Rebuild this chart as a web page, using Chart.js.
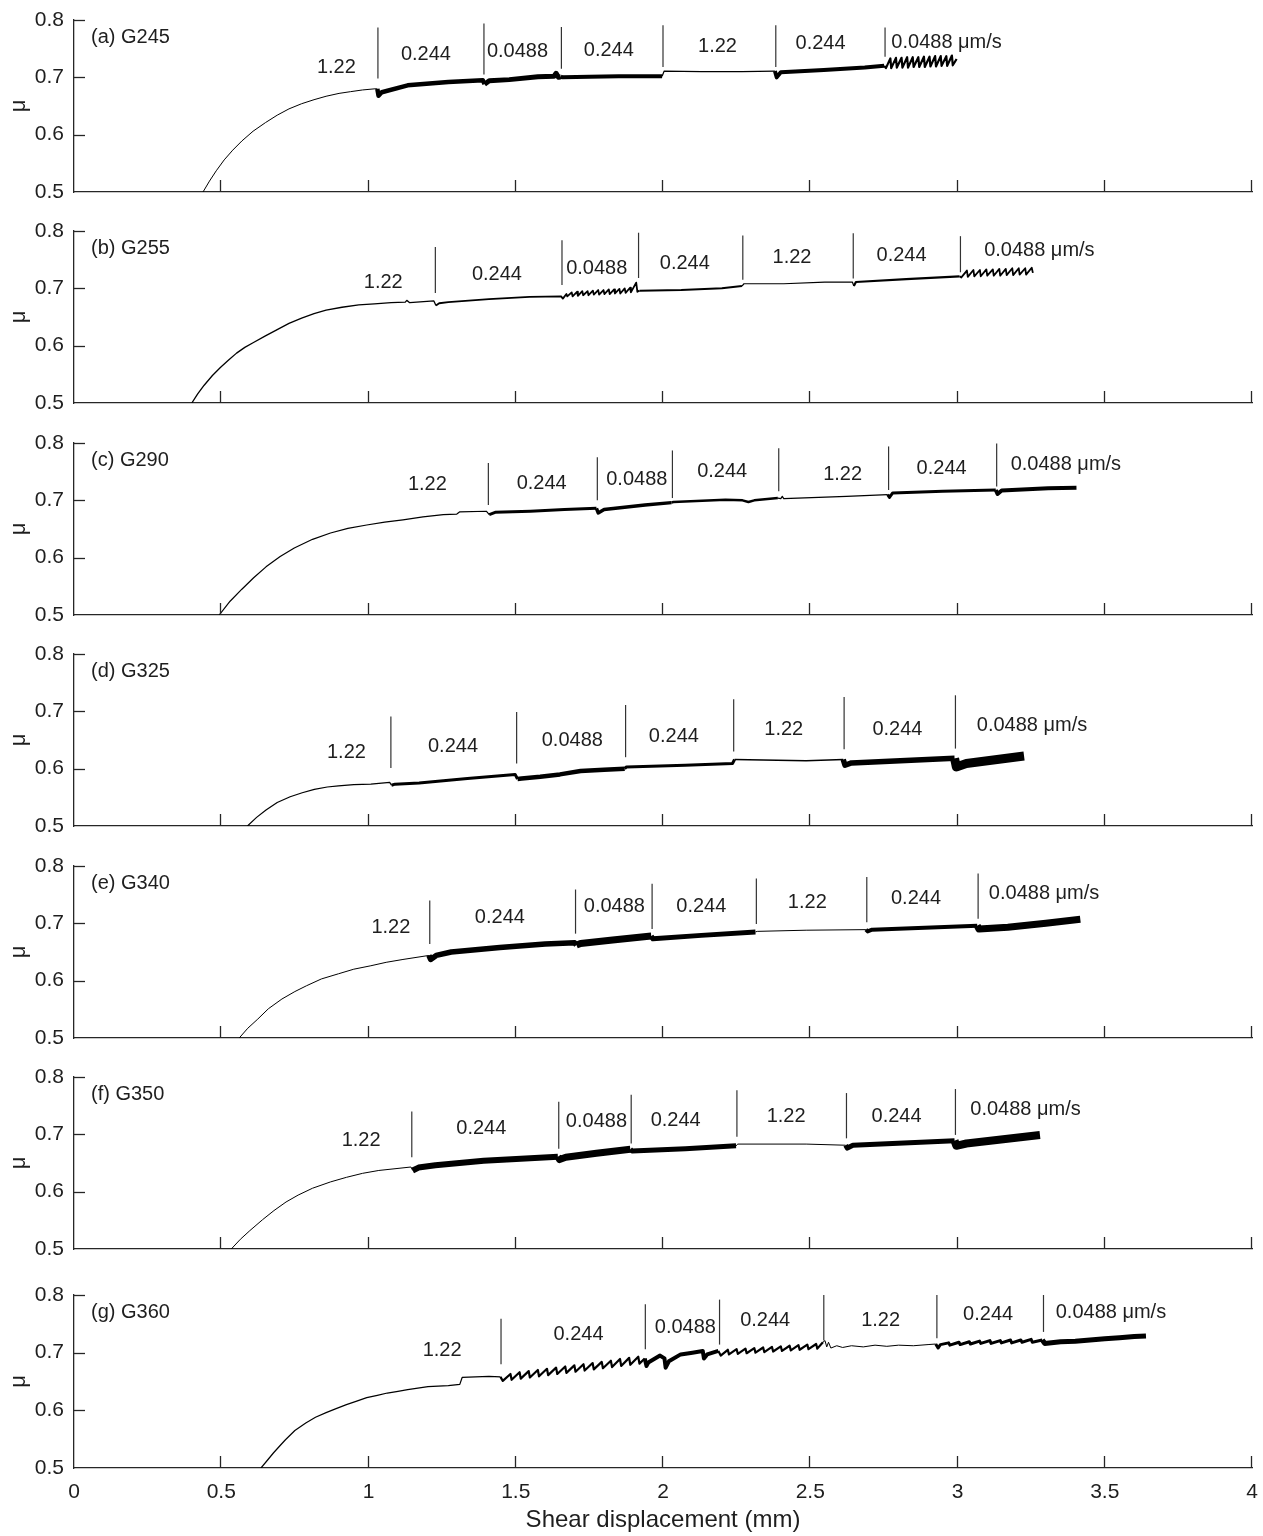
<!DOCTYPE html>
<html>
<head>
<meta charset="utf-8">
<title>Friction vs shear displacement</title>
<script src="https://cdn.jsdelivr.net/npm/chart.js@4.4.1/dist/chart.umd.min.js"></script>
<style>
  body { margin: 0; background: #fff; width: 1263px; height: 1536px; position: relative; overflow: hidden; }
  canvas { position: absolute; left: 0; }
</style>
</head>
<body>
<script>
// Axis ticks shared by every panel
const xTickValues = [0, 0.5, 1, 1.5, 2, 2.5, 3, 3.5, 4];
const yTickValues = [0.5, 0.6, 0.7, 0.8];

// Velocity steps (µm/s), the same sequence in every run
const rateLabels = ['1.22', '0.244', '0.0488', '0.244', '1.22', '0.244', '0.0488 μm/s'];

// ---- (a) G245 ----
const dispA = [0.438, 0.460, 0.483, 0.510, 0.539, 0.570, 0.608, 0.650, 0.690, 0.730, 0.773, 0.815, 0.856, 0.900, 0.939, 0.980, 1.022, 1.030,
  1.034, 1.045, 1.133, 1.271, 1.388,
  1.394, 1.410, 1.478, 1.575, 1.630, 1.637, 1.645, 1.653,
  1.660, 1.750, 1.850, 1.997,
  2.004, 2.130, 2.268, 2.380,
  2.386, 2.400, 2.546, 2.685, 2.751,
  2.757, 2.772, 2.775, 2.791, 2.794, 2.810, 2.813, 2.829, 2.832, 2.848, 2.851, 2.867, 2.870,
  2.886, 2.889, 2.905, 2.908, 2.924, 2.927, 2.943, 2.946, 2.962, 2.965, 2.981, 2.984, 2.997];
const muA = [0.500, 0.519, 0.537, 0.556, 0.573, 0.589, 0.606, 0.621, 0.634, 0.645, 0.654, 0.661, 0.667, 0.672, 0.675, 0.678, 0.680, 0.680,
  0.668, 0.674, 0.686, 0.692, 0.695,
  0.688, 0.694, 0.696, 0.701, 0.702, 0.707, 0.700, 0.701,
  0.700, 0.701, 0.702, 0.702,
  0.711, 0.710, 0.710, 0.711,
  0.700, 0.709, 0.713, 0.717, 0.720,
  0.716, 0.733, 0.716, 0.734, 0.717, 0.734, 0.717, 0.735, 0.717, 0.735, 0.718, 0.735, 0.718,
  0.736, 0.718, 0.736, 0.719, 0.737, 0.719, 0.737, 0.720, 0.737, 0.720, 0.738, 0.721, 0.732];
const stepsA = [1.032, 1.392, 1.655, 2.0, 2.383, 2.754];
const stepLowA = [0.698, 0.705, 0.715, 0.718, 0.718, 0.736];
const stepHighA = [0.787, 0.794, 0.788, 0.791, 0.791, 0.787];
const labelXA = [0.891, 1.195, 1.506, 1.816, 2.185, 2.535, 2.963];
const labelYA = [0.718, 0.739, 0.745, 0.747, 0.753, 0.759, 0.760];

// ---- (b) G255 ----
const dispB = [0.400, 0.420, 0.442, 0.470, 0.497, 0.525, 0.552, 0.580, 0.608, 0.650, 0.690, 0.730, 0.773, 0.815, 0.856, 0.910, 0.967, 1.020, 1.077, 1.125, 1.130, 1.140, 1.222,
  1.229, 1.240, 1.271, 1.409, 1.547, 1.654,
  1.660, 1.672, 1.675, 1.690, 1.693, 1.708, 1.711, 1.726, 1.729, 1.744, 1.747, 1.762, 1.765, 1.780, 1.783,
  1.798, 1.801, 1.816, 1.819, 1.834, 1.837, 1.852, 1.855, 1.870, 1.873, 1.888, 1.891, 1.909, 1.913,
  1.920, 2.062, 2.200, 2.268,
  2.275, 2.410, 2.549, 2.643,
  2.648, 2.655, 2.826, 3.007,
  3.013, 3.032, 3.035, 3.054, 3.057, 3.076, 3.079, 3.098, 3.101, 3.120, 3.123, 3.142, 3.145, 3.164, 3.167,
  3.186, 3.189, 3.208, 3.211, 3.230, 3.233, 3.252, 3.256];
const muB = [0.500, 0.516, 0.531, 0.548, 0.562, 0.575, 0.587, 0.597, 0.605, 0.617, 0.628, 0.639, 0.648, 0.656, 0.662, 0.667, 0.671, 0.673, 0.675, 0.676, 0.679, 0.675, 0.678,
  0.670, 0.674, 0.676, 0.681, 0.685, 0.686,
  0.682, 0.690, 0.686, 0.693, 0.686, 0.694, 0.687, 0.695, 0.688, 0.695, 0.688, 0.696, 0.689, 0.697, 0.689,
  0.697, 0.690, 0.698, 0.690, 0.698, 0.691, 0.699, 0.691, 0.700, 0.692, 0.701, 0.693, 0.710, 0.694,
  0.696, 0.697, 0.700, 0.704,
  0.708, 0.708, 0.711, 0.711,
  0.704, 0.711, 0.716, 0.721,
  0.719, 0.731, 0.720, 0.732, 0.721, 0.732, 0.721, 0.733, 0.722, 0.733, 0.722, 0.734, 0.722, 0.734, 0.723,
  0.735, 0.723, 0.735, 0.724, 0.735, 0.724, 0.736, 0.727];
const stepsB = [1.227, 1.657, 1.917, 2.271, 2.646, 3.010];
const stepLowB = [0.692, 0.706, 0.718, 0.715, 0.717, 0.728];
const stepHighB = [0.772, 0.784, 0.797, 0.792, 0.796, 0.791];
const labelXB = [1.050, 1.436, 1.775, 2.074, 2.438, 2.810, 3.278];
const labelYB = [0.710, 0.725, 0.735, 0.744, 0.753, 0.757, 0.766];

// ---- (c) G290 ----
const dispC = [0.493, 0.530, 0.570, 0.610, 0.652, 0.700, 0.748, 0.810, 0.871, 0.930, 0.994, 1.055, 1.117, 1.185, 1.254, 1.300, 1.310, 1.400,
  1.410, 1.430, 1.550, 1.665, 1.774,
  1.780, 1.800, 1.939, 2.029,
  2.035, 2.212, 2.270, 2.290, 2.310, 2.390,
  2.400, 2.405, 2.410, 2.623, 2.763,
  2.769, 2.780, 2.950, 3.130,
  3.136, 3.150, 3.308, 3.404];
const muC = [0.500, 0.524, 0.545, 0.565, 0.584, 0.602, 0.617, 0.632, 0.643, 0.651, 0.657, 0.662, 0.666, 0.671, 0.675, 0.676, 0.680, 0.681,
  0.675, 0.679, 0.681, 0.684, 0.686,
  0.678, 0.684, 0.692, 0.696,
  0.697, 0.701, 0.700, 0.697, 0.700, 0.704,
  0.703, 0.707, 0.703, 0.707, 0.710,
  0.705, 0.713, 0.716, 0.718,
  0.711, 0.717, 0.721, 0.722];
const stepsC = [1.407, 1.777, 2.032, 2.393, 2.766, 3.133];
const stepLowC = [0.692, 0.700, 0.704, 0.716, 0.718, 0.724];
const stepHighC = [0.765, 0.775, 0.787, 0.791, 0.794, 0.799];
const labelXC = [1.200, 1.588, 1.911, 2.201, 2.610, 2.946, 3.368];
const labelYC = [0.727, 0.730, 0.737, 0.750, 0.745, 0.756, 0.762];

// ---- (d) G325 ----
const dispD = [0.589, 0.620, 0.652, 0.690, 0.734, 0.775, 0.816, 0.860, 0.898, 0.950, 1.008, 1.072,
  1.078, 1.090, 1.172, 1.336, 1.498,
  1.506, 1.520, 1.583, 1.650, 1.720, 1.800, 1.870,
  1.876, 2.075, 2.236,
  2.243, 2.486, 2.612,
  2.618, 2.640, 2.990,
  2.996, 3.030, 3.226];
const muD = [0.500, 0.515, 0.528, 0.541, 0.551, 0.558, 0.564, 0.568, 0.570, 0.572, 0.573, 0.576,
  0.571, 0.573, 0.575, 0.583, 0.590,
  0.582, 0.583, 0.586, 0.590, 0.596, 0.598, 0.600,
  0.603, 0.606, 0.609,
  0.616, 0.614, 0.616,
  0.606, 0.610, 0.618,
  0.603, 0.609, 0.622];
const stepsD = [1.076, 1.503, 1.873, 2.240, 2.615, 2.993];
const stepLowD = [0.601, 0.609, 0.620, 0.630, 0.634, 0.635];
const stepHighD = [0.691, 0.699, 0.711, 0.721, 0.725, 0.728];
const labelXD = [0.925, 1.287, 1.692, 2.037, 2.410, 2.796, 3.253];
const labelYD = [0.629, 0.639, 0.649, 0.656, 0.668, 0.668, 0.676];

// ---- (e) G340 ----
const dispE = [0.561, 0.590, 0.624, 0.660, 0.706, 0.750, 0.789, 0.840, 0.898, 0.950, 1.008, 1.060, 1.117, 1.205,
  1.211, 1.230, 1.281, 1.446, 1.600, 1.700,
  1.706, 1.720, 1.829, 1.960,
  1.966, 2.130, 2.314,
  2.320, 2.486, 2.689,
  2.695, 2.710, 3.067,
  3.073, 3.171, 3.300, 3.417];
const muE = [0.500, 0.517, 0.533, 0.551, 0.568, 0.581, 0.591, 0.603, 0.612, 0.620, 0.626, 0.632, 0.637, 0.644,
  0.637, 0.644, 0.650, 0.658, 0.664, 0.666,
  0.662, 0.665, 0.671, 0.678,
  0.673, 0.679, 0.685,
  0.686, 0.688, 0.689,
  0.686, 0.689, 0.696,
  0.690, 0.693, 0.700, 0.707];
const stepsE = [1.208, 1.703, 1.963, 2.317, 2.692, 3.070];
const stepLowE = [0.664, 0.682, 0.690, 0.699, 0.702, 0.708];
const stepHighE = [0.740, 0.759, 0.769, 0.778, 0.781, 0.787];
const labelXE = [1.076, 1.446, 1.835, 2.130, 2.490, 2.859, 3.294];
const labelYE = [0.692, 0.711, 0.730, 0.730, 0.736, 0.743, 0.752];

// ---- (f) G350 ----
const dispF = [0.534, 0.565, 0.597, 0.640, 0.679, 0.720, 0.761, 0.810, 0.871, 0.925, 0.980, 1.035, 1.090, 1.144,
  1.150, 1.170, 1.227, 1.391, 1.643,
  1.649, 1.670, 1.774, 1.889,
  1.895, 2.076, 2.248,
  2.254, 2.486, 2.620,
  2.626, 2.645, 2.990,
  2.996, 3.030, 3.280];
const muF = [0.500, 0.517, 0.532, 0.551, 0.567, 0.582, 0.594, 0.606, 0.617, 0.625, 0.632, 0.637, 0.640, 0.643,
  0.637, 0.642, 0.646, 0.654, 0.661,
  0.656, 0.660, 0.667, 0.674,
  0.671, 0.675, 0.680,
  0.683, 0.683, 0.681,
  0.676, 0.681, 0.689,
  0.680, 0.684, 0.699];
const stepsF = [1.147, 1.646, 1.892, 2.251, 2.623, 2.993];
const stepLowF = [0.660, 0.675, 0.684, 0.696, 0.693, 0.699];
const stepHighF = [0.740, 0.757, 0.769, 0.777, 0.772, 0.779];
const labelXF = [0.975, 1.383, 1.774, 2.043, 2.418, 2.793, 3.231];
const labelYF = [0.689, 0.711, 0.722, 0.724, 0.731, 0.731, 0.743];

// ---- (g) G360 ----
const dispG = [0.635, 0.656, 0.677, 0.700, 0.718, 0.750, 0.787, 0.820, 0.856, 0.890, 0.925, 0.960, 0.994, 1.030, 1.064, 1.100, 1.133, 1.202, 1.271, 1.310, 1.318, 1.409, 1.448,
  1.456, 1.482, 1.486, 1.513, 1.517, 1.544, 1.548, 1.575, 1.579, 1.606, 1.610, 1.637, 1.641, 1.668, 1.672, 1.699,
  1.703, 1.730, 1.734, 1.761, 1.765, 1.792, 1.796, 1.823, 1.827, 1.854, 1.858, 1.885, 1.889, 1.916, 1.920, 1.938,
  1.944, 1.950, 1.990, 2.005, 2.009, 2.020, 2.060, 2.100, 2.135, 2.139, 2.150, 2.188,
  2.196, 2.220, 2.224, 2.250, 2.254, 2.280, 2.284, 2.310, 2.314, 2.340, 2.344, 2.370, 2.374, 2.400, 2.404, 2.430,
  2.434, 2.460, 2.464, 2.490, 2.494, 2.520, 2.524, 2.543,
  2.550, 2.556, 2.562, 2.570, 2.590, 2.610, 2.640, 2.680, 2.720, 2.760, 2.800, 2.850, 2.900, 2.926,
  2.934, 2.942, 2.970, 2.974, 3.005, 3.009, 3.040, 3.044, 3.075, 3.079, 3.110, 3.114, 3.145, 3.149, 3.180, 3.184,
  3.215, 3.219, 3.250, 3.254, 3.288,
  3.296, 3.350, 3.400, 3.450, 3.500, 3.550, 3.600, 3.640];
const muG = [0.500, 0.513, 0.526, 0.539, 0.549, 0.565, 0.578, 0.588, 0.596, 0.603, 0.610, 0.616, 0.622, 0.626, 0.630, 0.633, 0.636, 0.641, 0.643, 0.645, 0.657, 0.659, 0.658,
  0.651, 0.663, 0.653, 0.666, 0.655, 0.668, 0.657, 0.670, 0.659, 0.672, 0.661, 0.674, 0.663, 0.676, 0.665, 0.678,
  0.667, 0.680, 0.669, 0.682, 0.671, 0.684, 0.673, 0.686, 0.675, 0.689, 0.677, 0.691, 0.679, 0.693, 0.681, 0.690,
  0.677, 0.683, 0.695, 0.690, 0.674, 0.685, 0.697, 0.700, 0.703, 0.690, 0.697, 0.703,
  0.695, 0.705, 0.697, 0.706, 0.698, 0.707, 0.699, 0.708, 0.700, 0.709, 0.701, 0.710, 0.702, 0.711, 0.703, 0.712,
  0.704, 0.713, 0.705, 0.714, 0.706, 0.715, 0.707, 0.718,
  0.721, 0.710, 0.718, 0.708, 0.712, 0.709, 0.712, 0.710, 0.713, 0.711, 0.713, 0.712, 0.714, 0.715,
  0.708, 0.714, 0.717, 0.713, 0.718, 0.714, 0.719, 0.715, 0.720, 0.716, 0.721, 0.716, 0.721, 0.717, 0.722, 0.717,
  0.722, 0.718, 0.723, 0.718, 0.722,
  0.716, 0.719, 0.720, 0.722, 0.724, 0.726, 0.728, 0.729];
const stepsG = [1.450, 1.940, 2.192, 2.546, 2.930, 3.292];
const stepLowG = [0.680, 0.706, 0.714, 0.721, 0.725, 0.736];
const stepHighG = [0.759, 0.784, 0.792, 0.800, 0.800, 0.800];
const labelXG = [1.250, 1.713, 2.076, 2.347, 2.739, 3.104, 3.521];
const labelYG = [0.703, 0.732, 0.743, 0.755, 0.755, 0.766, 0.769];

// Panels, top to bottom
const panels = [
  { name: '(a) G245', disp: dispA, mu: muA, steps: stepsA, stepLow: stepLowA, stepHigh: stepHighA, labelX: labelXA, labelY: labelYA },
  { name: '(b) G255', disp: dispB, mu: muB, steps: stepsB, stepLow: stepLowB, stepHigh: stepHighB, labelX: labelXB, labelY: labelYB },
  { name: '(c) G290', disp: dispC, mu: muC, steps: stepsC, stepLow: stepLowC, stepHigh: stepHighC, labelX: labelXC, labelY: labelYC },
  { name: '(d) G325', disp: dispD, mu: muD, steps: stepsD, stepLow: stepLowD, stepHigh: stepHighD, labelX: labelXD, labelY: labelYD },
  { name: '(e) G340', disp: dispE, mu: muE, steps: stepsE, stepLow: stepLowE, stepHigh: stepHighE, labelX: labelXE, labelY: labelYE },
  { name: '(f) G350', disp: dispF, mu: muF, steps: stepsF, stepLow: stepLowF, stepHigh: stepHighF, labelX: labelXF, labelY: labelYF },
  { name: '(g) G360', disp: dispG, mu: muG, steps: stepsG, stepLow: stepLowG, stepHigh: stepHighG, labelX: labelXG, labelY: labelYG }
];

// ---- Layout and style (kept apart from the data) ----
const PAGE_W = 1263;
const PAGE_H = 1536;
const PAD_TOP = 20;
const PAD_RIGHT = 11;
const Y_AXIS_W = 74;
const panelTops = [20, 231, 443, 654, 866, 1077, 1295];
// line width of the friction trace in each velocity interval (noise band thickness)
const traceWidths = [
  [1, 4.5, 5, 4, 1.2, 4, 2.2],
  [1.3, 1.8, 1.8, 2, 1.2, 2.2, 1.8],
  [1.2, 3, 3.5, 2.5, 1.2, 3, 4],
  [1.2, 3, 4.5, 3, 1.5, 5.5, 9],
  [1, 5.5, 7, 5, 1, 4, 7],
  [1, 6, 7, 5, 1, 5, 8],
  [1.2, 2.2, 4, 2.2, 1, 3, 5]
];
const FONT = '"Liberation Sans", Arial, Helvetica, sans-serif';
const AXIS_COLOR = '#262626';
const TEXT_COLOR = '#1e1e1e';

/**
 * Index of the velocity interval that contains displacement x.
 */
function rateIndex(x, steps) {
  return steps.filter(s => s <= x).length;
}

/**
 * Plugin drawing inward tick marks, the velocity labels and the panel name.
 */
function makeDecorPlugin(panel) {
  return {
    id: 'panelDecor',
    afterDraw(chart) {
      const { ctx, chartArea, scales: { x, y } } = chart;
      ctx.save();
      ctx.strokeStyle = AXIS_COLOR;
      ctx.lineWidth = 1.3;
      xTickValues.forEach(v => {
        if (v === 0) return;
        const px = Math.round(x.getPixelForValue(v)) - 0.5;
        ctx.beginPath();
        ctx.moveTo(px, chartArea.bottom);
        ctx.lineTo(px, chartArea.bottom - 12);
        ctx.stroke();
      });
      yTickValues.forEach(v => {
        if (v === 0.5) return;
        const py = Math.round(y.getPixelForValue(v)) + 0.5;
        ctx.beginPath();
        ctx.moveTo(chartArea.left, py);
        ctx.lineTo(chartArea.left + 11, py);
        ctx.stroke();
      });
      ctx.fillStyle = TEXT_COLOR;
      ctx.font = '20px ' + FONT;
      ctx.textAlign = 'center';
      ctx.textBaseline = 'middle';
      panel.labelX.forEach((lx, i) => {
        ctx.fillText(rateLabels[i], x.getPixelForValue(lx), y.getPixelForValue(panel.labelY[i]));
      });
      ctx.textAlign = 'left';
      ctx.fillText(panel.name, chartArea.left + 17, chartArea.top + 17);
      ctx.restore();
    }
  };
}

/**
 * Builds one stacked panel on its own canvas.
 */
function renderPanel(panel, index) {
  const isLast = index === panels.length - 1;
  const plotTop = panelTops[index];
  const plotHeight = isLast ? 173 : 172;
  const canvasTop = plotTop - PAD_TOP;
  const axisHeight = isLast ? PAGE_H - (plotTop + plotHeight) : 18;
  const height = PAD_TOP + plotHeight + axisHeight;

  const canvas = document.createElement('canvas');
  canvas.width = PAGE_W;
  canvas.height = height;
  canvas.style.top = canvasTop + 'px';
  canvas.style.width = PAGE_W + 'px';
  canvas.style.height = height + 'px';
  document.body.appendChild(canvas);

  const widths = traceWidths[index];
  const trace = {
    data: panel.disp.map((d, i) => ({ x: d, y: panel.mu[i] })),
    borderColor: '#000',
    borderWidth: 1,
    borderJoinStyle: 'round',
    pointRadius: 0,
    tension: 0,
    fill: false,
    segment: {
      borderWidth: ctx => widths[rateIndex((ctx.p0.parsed.x + ctx.p1.parsed.x) / 2, panel.steps)]
    }
  };
  // Vertical markers where the loading velocity changes
  const markers = panel.steps.map((s, i) => ({
    data: [{ x: s, y: panel.stepLow[i] }, { x: s, y: panel.stepHigh[i] }],
    borderColor: '#333',
    borderWidth: 1.2,
    pointRadius: 0,
    fill: false
  }));

  new Chart(canvas.getContext('2d'), {
    type: 'line',
    data: { datasets: [trace, ...markers] },
    options: {
      responsive: false,
      animation: false,
      devicePixelRatio: 1,
      layout: { padding: { top: PAD_TOP, right: PAD_RIGHT, left: 0, bottom: 0 } },
      plugins: { legend: { display: false }, tooltip: { enabled: false } },
      scales: {
        x: {
          type: 'linear',
          min: 0,
          max: 4,
          afterBuildTicks: scale => { scale.ticks = xTickValues.map(v => ({ value: v })); },
          afterFit: scale => {
            scale.height = axisHeight;
            scale.paddingLeft = 0;
            scale.paddingRight = 0;
          },
          ticks: {
            display: isLast,
            font: { size: 21, family: FONT },
            color: TEXT_COLOR,
            padding: 12,
            maxRotation: 0,
            callback: v => String(v)
          },
          grid: { display: false, drawTicks: false },
          border: { display: true, color: AXIS_COLOR, width: 1.3 },
          title: {
            display: isLast,
            text: 'Shear displacement (mm)',
            font: { size: 24, family: FONT },
            color: TEXT_COLOR,
            padding: { top: 0, bottom: 1 }
          }
        },
        y: {
          min: 0.5,
          max: 0.8,
          afterBuildTicks: scale => { scale.ticks = yTickValues.map(v => ({ value: v })); },
          afterFit: scale => {
            scale.width = Y_AXIS_W;
            scale.paddingTop = 0;
            scale.paddingBottom = 0;
          },
          ticks: {
            font: { size: 21, family: FONT },
            color: TEXT_COLOR,
            padding: 10,
            callback: v => Number(v).toFixed(1)
          },
          grid: { display: false, drawTicks: false },
          border: { display: true, color: AXIS_COLOR, width: 1.3 },
          title: {
            display: true,
            text: 'μ',
            font: { size: 22, family: FONT },
            color: TEXT_COLOR,
            padding: { top: 6, bottom: 0 }
          }
        }
      }
    },
    plugins: [makeDecorPlugin(panel)]
  });
}

document.addEventListener('DOMContentLoaded', () => {
  Chart.defaults.font.family = FONT;
  panels.forEach(renderPanel);
});
</script>
</body>
</html>
